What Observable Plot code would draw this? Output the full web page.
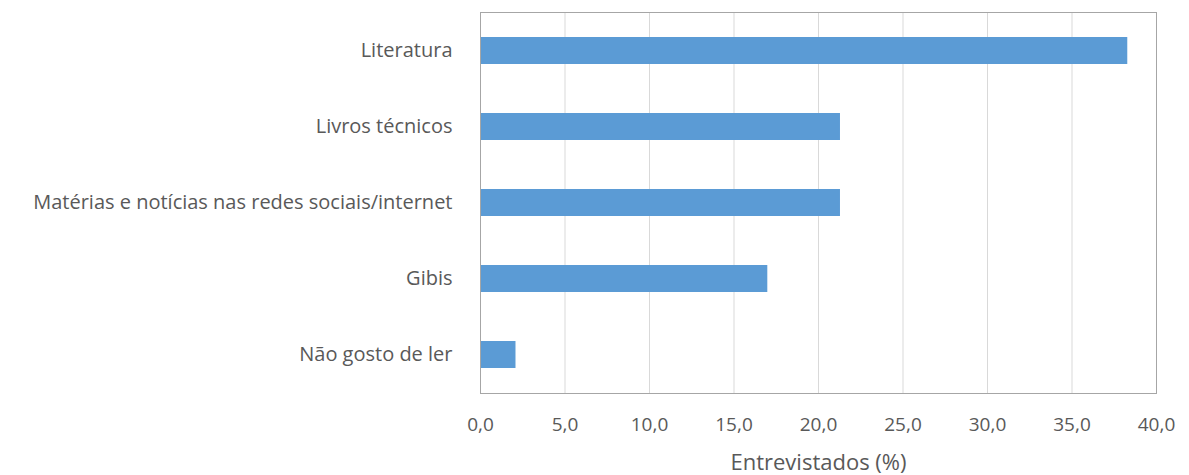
<!DOCTYPE html>
<html><head><meta charset="utf-8">
<script src="https://cdn.jsdelivr.net/npm/d3@7"></script>
<script src="https://cdn.jsdelivr.net/npm/@observablehq/plot@0.6"></script>
<style>html,body{margin:0;padding:0;background:#fff}</style>
</head><body><div id="chart"></div>
<script>
const categories = ["Literatura", "Livros técnicos", "Matérias e notícias nas redes sociais/internet", "Gibis", "Não gosto de ler"];
const values = [38.3, 21.3, 21.3, 17.0, 2.1];
const xTicks = [0, 5, 10, 15, 20, 25, 30, 35, 40];
const xLabel = "Entrevistados (%)";

const data = categories.map((c, i) => ({categoria: c, valor: values[i]}));
const fmt = d => d.toFixed(1).replace(".", ",");

const chart = Plot.plot({
  width: 1189, height: 475,
  marginLeft: 480, marginRight: 33, marginTop: 12, marginBottom: 82,
  style: {fontFamily: "'Open Sans', sans-serif", background: "#fff"},
  x: {domain: [0, 40], ticks: xTicks, tickFormat: fmt},
  y: {domain: categories, paddingInner: 0.646, paddingOuter: 0.323},
  marks: [
    Plot.gridX(xTicks, {stroke: "#d9d9d9", strokeOpacity: 1}),
    Plot.barX(data, {x: "valor", y: "categoria", fill: "#5b9bd5"}),
    Plot.frame({stroke: "#a6a6a6"}),
    Plot.axisY({tickSize: 0, tickPadding: 28, fontSize: 20, color: "#595959", label: null}),
    Plot.axisX(xTicks, {tickSize: 0, tickPadding: 24, tickFormat: fmt, fontSize: 19, color: "#595959", label: null}),
    Plot.axisX({ticks: [], tickSize: 0, fontSize: 22, color: "#595959", label: xLabel, labelAnchor: "center", labelArrow: "none", labelOffset: 76})
  ]
});
document.getElementById("chart").appendChild(chart);
</script>
</body></html>
